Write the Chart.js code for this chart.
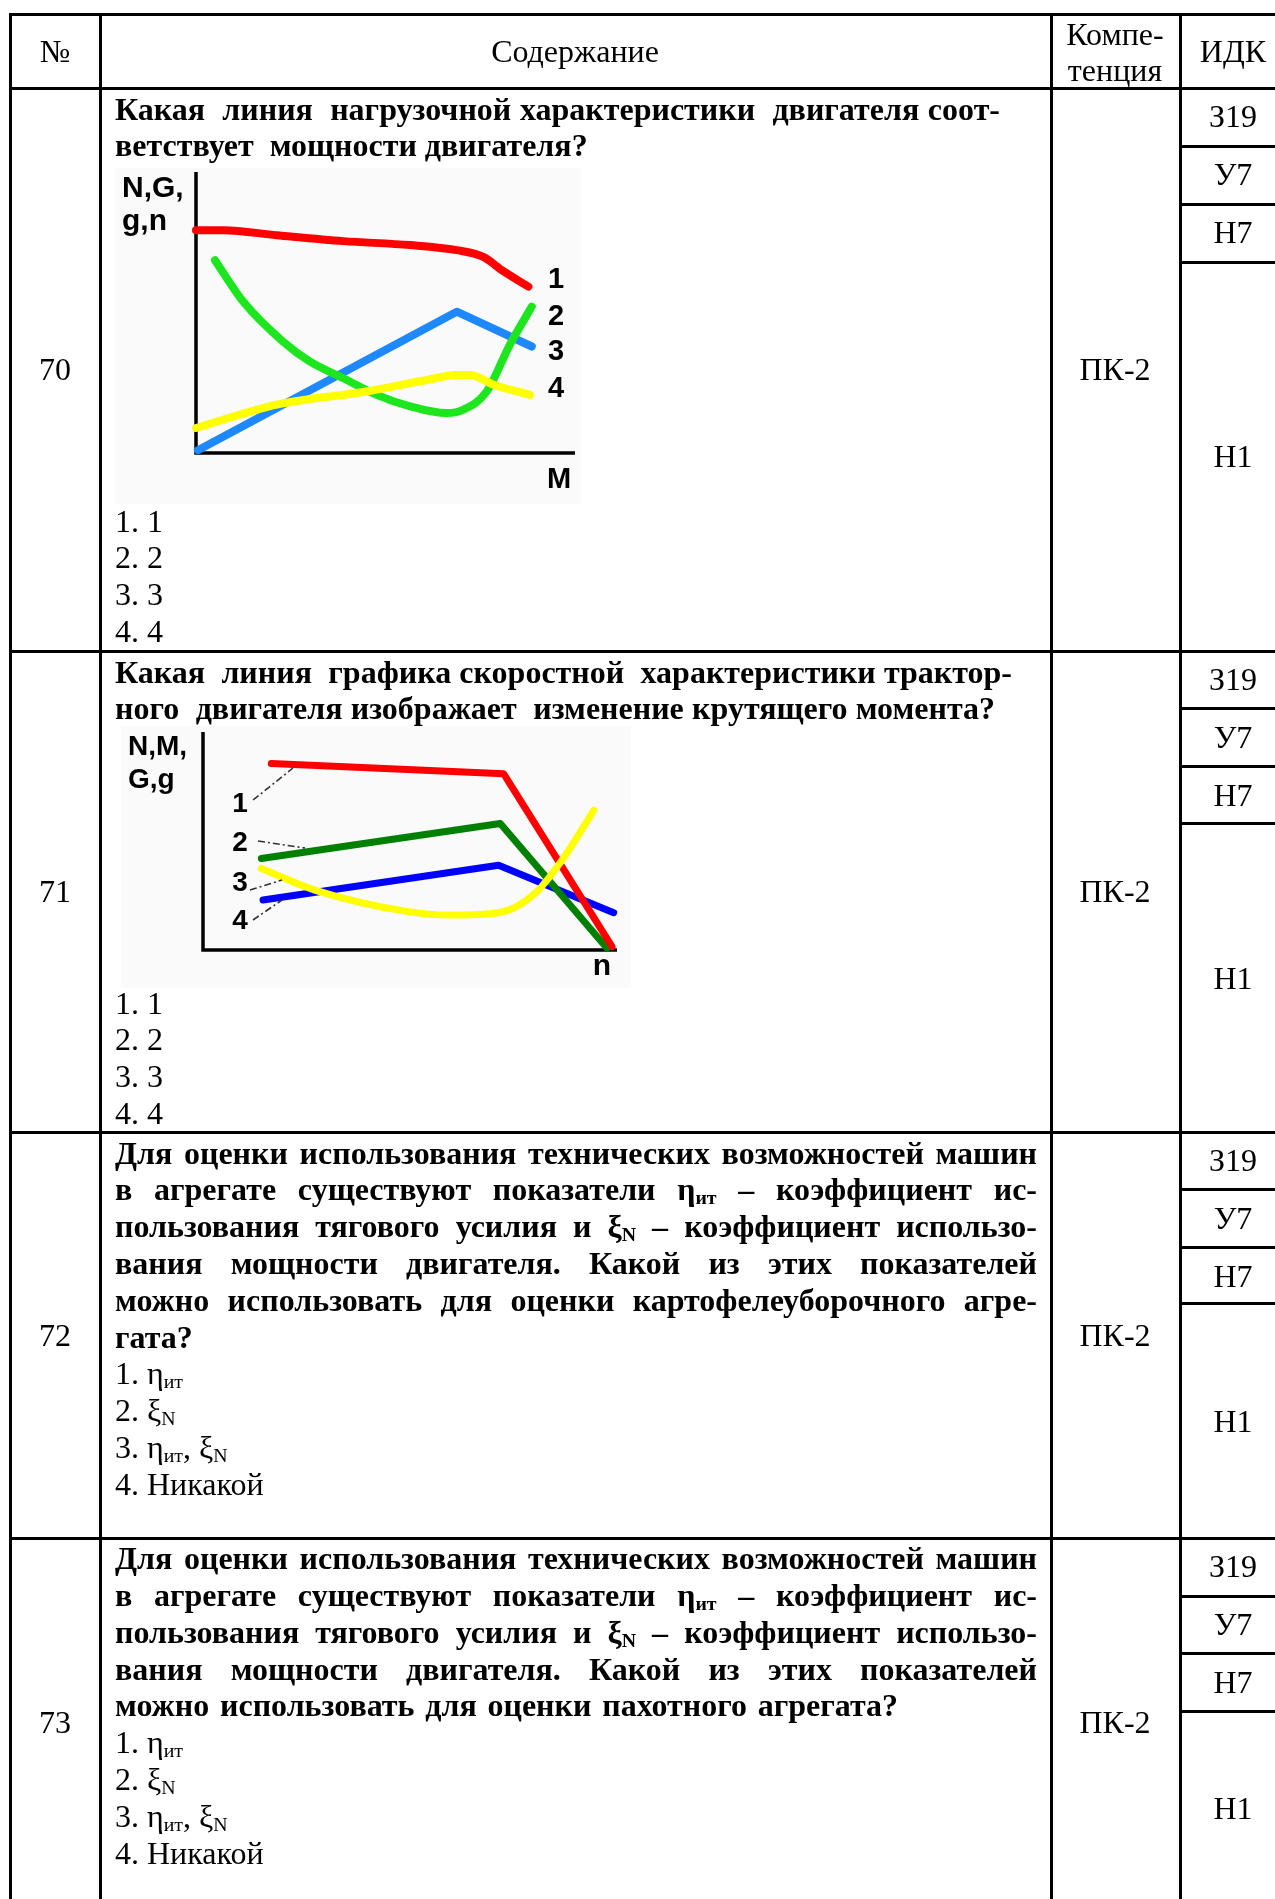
<!DOCTYPE html>
<html lang="ru">
<head>
<meta charset="utf-8">
<title>Вопросы 70–73</title>
<script src="https://cdn.jsdelivr.net/npm/chart.js@4.4.1/dist/chart.umd.min.js"></script>
<style>
  html, body { margin: 0; padding: 0; background: #fff; }
  body {
    width: 1275px; height: 1899px; position: relative; overflow: hidden;
    font-family: "Liberation Serif", "Times New Roman", serif; font-size: 32px; color: #000;
  }
  .h, .v { position: absolute; background: #000; }
  .h { height: 3px; }
  .v { width: 3px; top: 13px; height: 1900px; }
  .t { position: absolute; line-height: 36.8px; white-space: nowrap; }
  .c { transform: translateX(-50%); text-align: center; }
  .b { font-weight: bold; }
  .p { white-space: pre; }
  .j { text-align: justify; text-align-last: justify; }
  sub { font-size: 0.62em; vertical-align: -0.22em; line-height: 0; }
  .pic { position: absolute; background: #fafafa; }
  .lbl {
    position: absolute; font-family: "Liberation Sans", Arial, sans-serif;
    font-weight: bold; line-height: 1; white-space: nowrap; transform: translateY(-50%);
  }
  .mid { transform: translate(-50%, -50%); }
  canvas { position: absolute; }
  svg { position: absolute; left: 0; top: 0; }
</style>
</head>
<body>
<div class="pic" style="left:115px;top:168px;width:466px;height:336px"></div>
<div class="pic" style="left:121px;top:726px;width:510px;height:262px"></div>
<canvas id="loadChart" width="419" height="321" style="left:176px;top:152px"></canvas>
<canvas id="speedChart" width="454" height="258" style="left:183px;top:712px"></canvas>
<svg width="1275" height="1899">
  <g stroke="#333" stroke-width="1.6" stroke-dasharray="7 3 2 3" fill="none">
    <line x1="253" y1="800" x2="293" y2="768"/>
    <line x1="258" y1="841" x2="305" y2="848"/>
    <line x1="250" y1="890" x2="282" y2="880"/>
    <line x1="253" y1="920" x2="282" y2="900"/>
  </g>
</svg>

<script>
// Вопрос 70: нагрузочная характеристика, по оси X — M (0..100 условно)
const loadRedX = [0, 7.2, 21.3, 38.9, 56.5, 68.8, 75.8, 81.1, 87.7];
const loadRedY = [79.3, 79.3, 77.5, 75.4, 74.0, 72.2, 69.8, 64.7, 59.2];
const loadGreenX = [5, 12.5, 23, 30.1, 38.9, 47.7, 56.5, 66.1, 70.5, 76.7, 82.8, 88.6];
const loadGreenY = [68.6, 53.8, 39.6, 32.5, 26.6, 20.7, 16.6, 14.2, 15.4, 21.9, 38.5, 52.1];
const loadBlueX = [0.5, 68.8, 88.6];
const loadBlueY = [1, 50.3, 37.9];
const loadYellowX = [0, 21.3, 45, 60.9, 68.8, 72.3, 78.5, 88.1];
const loadYellowY = [8.9, 17.2, 21.9, 26, 27.8, 27.8, 24.3, 20.7];

// Вопрос 71: скоростная характеристика, по оси X — n
const speedRedX = [16.5, 72.6, 98.8];
const speedRedY = [85.5, 80.9, 1.5];
const speedGreenX = [14.1, 71.8, 97.6];
const speedGreenY = [42, 58, 0.8];
const speedBlueX = [14.5, 71.4, 99.2];
const speedBlueY = [22.9, 38.9, 17.1];
const speedYellowX = [14.1, 27, 49.6, 59.3, 71.4, 80.2, 86.7, 94.4];
const speedYellowY = [37.4, 27.5, 17.6, 16, 17.1, 26, 41.2, 64.1];

const lineNumbers = ['1', '2', '3', '4'];
const idkCodes = ['З19', 'У7', 'Н7', 'Н1'];

const ROW = 36.8;
const JW = 922; // ширина выровненной строки

function hLine(y, x1, x2) {
    const d = document.createElement('div');
    d.className = 'h';
    d.style.left = (x1 - 1.5) + 'px';
    d.style.top = (y - 1.5) + 'px';
    d.style.width = (x2 - x1 + 3) + 'px';
    document.body.appendChild(d);
}

function vLine(x) {
    const d = document.createElement('div');
    d.className = 'v';
    d.style.left = (x - 1.5) + 'px';
    document.body.appendChild(d);
}

function put(html, cls, left, cy, width) {
    const d = document.createElement('div');
    d.className = 't ' + cls;
    d.innerHTML = html;
    d.style.left = left + 'px';
    d.style.top = (cy - ROW / 2) + 'px';
    if (width) d.style.width = width + 'px';
    document.body.appendChild(d);
}

function lines(arr, cls, cy) {
    arr.forEach((l, i) => {
        const text = Array.isArray(l) ? l[0] : l;
        const w = Array.isArray(l) ? l[1] : null;
        put(text, cls + (w ? ' j' : ''), 115, cy + i * ROW, w);
    });
}

function label(text, left, cy, size, centered) {
    const d = document.createElement('div');
    d.className = 'lbl' + (centered ? ' mid' : '');
    d.textContent = text;
    d.style.left = left + 'px';
    d.style.top = cy + 'px';
    d.style.fontSize = size + 'px';
    document.body.appendChild(d);
}

// таблица
[10, 100, 1051, 1180].forEach(vLine);
[14, 88, 651, 1132, 1538].forEach(y => hLine(y, 10, 1290));
[146, 204, 262, 708, 766, 823, 1189, 1247, 1303, 1596, 1653, 1711].forEach(y => hLine(y, 1180, 1290));

put('№', 'c', 55, 51);
put('Содержание', 'c', 575, 51);
put('Компе-', 'c', 1115, 34);
put('тенция', 'c', 1115, 70);
put('ИДК', 'c', 1233, 51);

const rowTops = [88, 651, 1132, 1538];
const rowBottoms = [651, 1132, 1538, 1906];
['70', '71', '72', '73'].forEach((n, i) => {
    const cy = (rowTops[i] + rowBottoms[i]) / 2;
    put(n, 'c', 55, cy);
    put('ПК-2', 'c', 1115, cy);
    const t = rowTops[i];
    const sub = [t, t + 57.7, t + 115.4, t + 173.1, rowBottoms[i]];
    idkCodes.forEach((c, k) => put(c, 'c', 1233, (sub[k] + sub[k + 1]) / 2));
});

const eta = 'η<sub>ит</sub>';
const xi = 'ξ<sub>N</sub>';
const answers = ['1. 1', '2. 2', '3. 3', '4. 4'];
const answersK = ['1. ' + eta, '2. ' + xi, '3. ' + eta + ', ' + xi, '4. Никакой'];

lines([['Какая  линия  нагрузочной характеристики  двигателя соот-', 885],
       'ветствует  мощности двигателя?'], 'b p', 109);
lines(answers, 'p', 521);

lines([['Какая  линия  графика скоростной  характеристики трактор-', 897],
       ['ного  двигателя изображает  изменение крутящего момента?', 880]], 'b p', 672);
lines(answers, 'p', 1003);

const common = [
    ['Для оценки  использования технических возможностей машин', JW],
    ['в  агрегате  существуют показатели  ' + eta + '  –  коэффициент ис-', JW],
    ['пользования тягового  усилия и  ' + xi + '  –  коэффициент использо-', JW],
    ['вания мощности  двигателя.  Какой  из  этих показателей', JW]
];
lines(common.concat([['можно использовать для оценки  картофелеуборочного агре-', JW], 'гата?']), 'b', 1153);
lines(answersK, '', 1373.8);
lines(common.concat([['можно использовать для оценки  пахотного агрегата?', 783]]), 'b', 1558.5);
lines(answersK, '', 1742.5);

// подписи к рисункам
label('N,G,', 122, 187, 30);
label('g,n', 122, 220, 30);
label('M', 559, 478, 29, true);
[278, 315, 350, 387].forEach((y, i) => label(lineNumbers[i], 556, y, 29, true));

label('N,M,', 128, 746, 28);
label('G,g', 128, 779, 28);
label('n', 602, 965, 30, true);
[803, 842, 882, 920].forEach((y, i) => label(lineNumbers[i], 240, y, 28, true));

// графики
const zip = (xs, ys) => xs.map((x, i) => ({x: x, y: ys[i]}));

const axesPlugin = {
    id: 'axes',
    beforeDatasetsDraw(chart) {
        const {ctx, scales: {x, y}} = chart;
        const x0 = x.getPixelForValue(0), y0 = y.getPixelForValue(0);
        const x1 = x.getPixelForValue(x.max), y1 = y.getPixelForValue(y.max);
        ctx.save();
        ctx.strokeStyle = '#000';
        ctx.lineWidth = 3.5;
        ctx.beginPath();
        ctx.moveTo(x0, y1);
        ctx.lineTo(x0, y0);
        ctx.lineTo(x1, y0);
        ctx.stroke();
        ctx.restore();
    }
};

function makeChart(id, datasets) {
    return new Chart(document.getElementById(id), {
        type: 'line',
        data: {datasets: datasets},
        options: {
            responsive: false,
            animation: false,
            layout: {padding: 20},
            scales: {
                x: {type: 'linear', display: false, min: 0, max: 100},
                y: {display: false, min: 0, max: 100}
            },
            elements: {
                point: {radius: 0},
                line: {borderCapStyle: 'round', borderJoinStyle: 'round'}
            },
            plugins: {legend: {display: false}, tooltip: {enabled: false}}
        },
        plugins: [axesPlugin]
    });
}

function ds(label, pts, color, width, smooth, order) {
    const d = {label, data: pts, borderColor: color, borderWidth: width,
               fill: false, clip: false, order: order, tension: 0};
    if (smooth) d.cubicInterpolationMode = 'monotone';
    return d;
}

makeChart('loadChart', [
    ds('1', zip(loadRedX, loadRedY), '#ff0000', 8, true, 4),
    ds('2', zip(loadGreenX, loadGreenY), '#1ee61e', 8, true, 2),
    ds('3', zip(loadBlueX, loadBlueY), '#1e88ff', 8, false, 3),
    ds('4', zip(loadYellowX, loadYellowY), '#ffff00', 8, true, 1)
]);

makeChart('speedChart', [
    ds('1', zip(speedRedX, speedRedY), '#ff0000', 7, false, 2),
    ds('2', zip(speedGreenX, speedGreenY), '#008000', 7, false, 3),
    ds('3', zip(speedBlueX, speedBlueY), '#0000ff', 7, false, 4),
    ds('4', zip(speedYellowX, speedYellowY), '#ffff00', 7, true, 1)
]);
</script>
</body>
</html>
